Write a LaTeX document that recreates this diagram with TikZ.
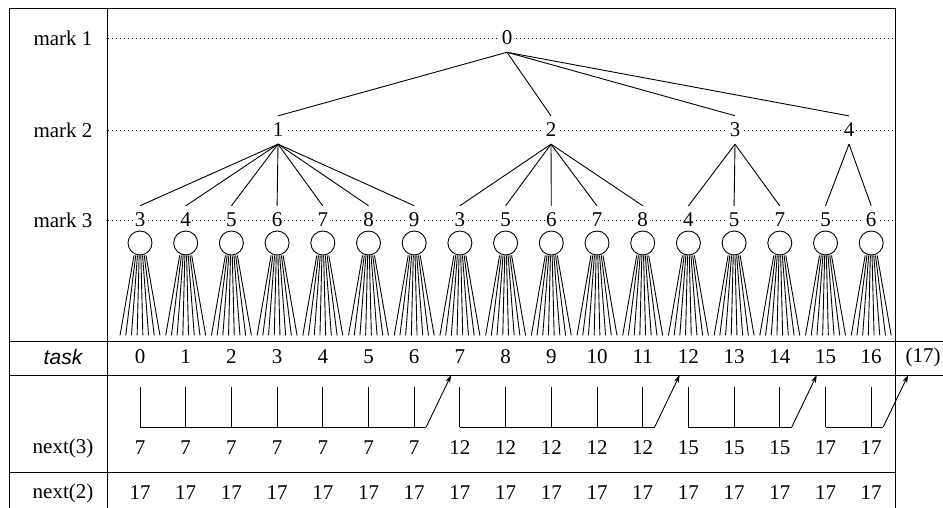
\documentclass[tikz,border=0pt]{standalone}
\usepackage{fontspec}
\setmainfont{Liberation Serif}
\setsansfont{Liberation Sans}
\usetikzlibrary{arrows.meta,positioning,calc}
\tikzset{
    %Define standard arrow tip
    >={Stealth[length=8pt,width=5pt]},
    %Define styles for the texts
    rowlabel/.style={
           font=\fontsize{21}{24}\selectfont,
           inner sep=1pt,
           },
    marknode/.style={
           font=\fontsize{21}{24}\selectfont,
           fill=white,
           inner xsep=1.5pt,
           inner ysep=7pt,
           },
    cell/.style={
           font=\fontsize{21}{24}\selectfont,
           inner sep=1pt,
           },
    %Define style for the processors
    proc/.style={
           circle,
           draw=black, line width=0.9pt,
           minimum size=24pt,
           inner sep=0pt,
           },
    % Define line styles
    level/.style={line width=0.7pt, dash pattern=on 0.8pt off 3.2pt},
    rule/.style={line width=1pt},
    link/.style={line width=0.9pt},
    fan/.style={line width=0.9pt}
}

\begin{document}
\begin{tikzpicture}[x=1pt,y=-1pt]
\useasboundingbox (0,0) rectangle (943,508);
 %table frame
\draw[rule] (9,508) -- (9,9) -- (895,9) -- (895,508);
\draw[rule] (107,9) -- (107,508);
\draw[rule] (9,341) -- (943,341);
\draw[rule] (9,375) -- (943,375);
\draw[rule] (9,472) -- (895,472);
 %mark levels
\foreach \y/\k in {38/1,130/2,220/3}{
  \node[rowlabel] (m\k) at (63,\y) {mark \k};
  \draw[level] (108,\y) -- (894,\y);
}
\node[rowlabel, font=\fontsize{21}{24}\sffamily\itshape] (task) at (63,357) {task};
\node[rowlabel] (nx3) at (63,448) {next(3)};
\node[rowlabel] (nx2) at (63,493) {next(2)};
 %tree
\node[marknode] (r) at (507,38) {0};
\node[marknode] (a1) at (278,130) {1};
\node[marknode] (a2) at (551,130) {2};
\node[marknode] (a3) at (735,130) {3};
\node[marknode] (a4) at (849,130) {4};
\foreach \k in {1,...,4}
  \draw[link] (r.south) -- (a\k.north);
 %leaves, tasks and next(3)
\foreach \v/\p/\n [count=\i from 0] in {3/1/7,4/1/7,5/1/7,6/1/7,7/1/7,8/1/7,9/1/7,
    3/2/12,5/2/12,6/2/12,7/2/12,8/2/12,4/3/15,5/3/15,7/3/15,5/4/17,6/4/17}{
  \pgfmathsetmacro\cx{140+45.7*\i}
  \node[marknode] (l\i) at (\cx,220) {\v};
  \draw[link] (a\p.south) -- (l\i.north);
  \node[proc] (p\i) at (\cx,243) {};
  \foreach \j in {0,...,7}
    \draw[fan] ($(p\i.south)+(-6+12*\j/7,0)$) -- ($(p\i.south)+(-20+40*\j/7,80)$);
  \node[cell] (t\i) at (\cx,357) {\i};
  \node[cell] (n\i) at (\cx,448) {\n};
  \node[cell] (q\i) at (\cx,493) {17};
  \coordinate (v\i) at (\cx,387);
  \coordinate (w\i) at (\cx,427);
}
\node[cell] (t17) at (923,357) {(17)};
 %next(3) links
\foreach \f/\l/\g in {0/6/1,7/11/2,12/14/3,15/16/4}{
  \foreach \k in {\f,...,\l}
    \draw[link] (v\k) -- (w\k);
  \coordinate (b\g) at ($(w\l)+(12,0)$);
  \coordinate (h\g) at ($(b\g)+(25,-52)$);
  \draw[link] (w\f) -- (b\g);
  \draw[link,->] (b\g) -- (h\g);
}
\end{tikzpicture}
\end{document}
